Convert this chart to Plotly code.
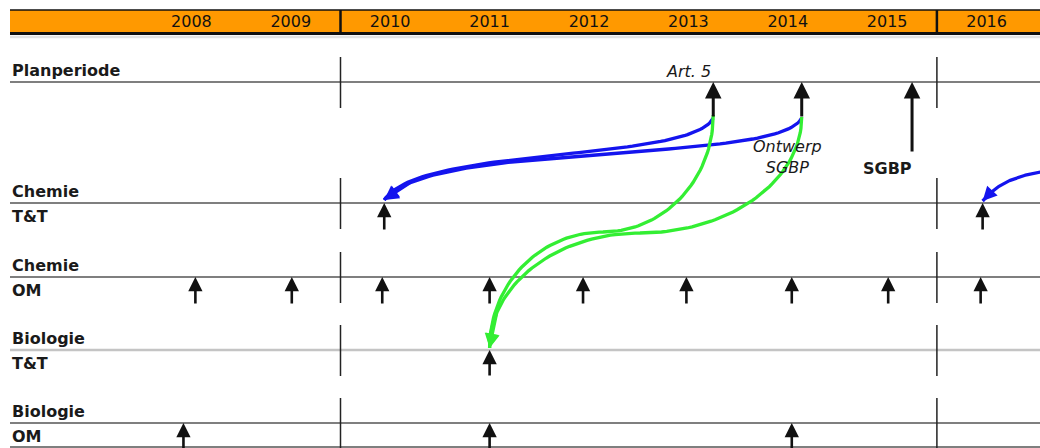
import numpy as np
import plotly.graph_objects as go

# ---------------- data ----------------
years = [2008, 2009, 2010, 2011, 2012, 2013, 2014, 2015, 2016]
period_bounds = [2010.0, 2016.0]  # boundaries of the planning period

row_upper = ["Planperiode", "Chemie", "Chemie", "Biologie", "Biologie"]
row_lower = ["", "T&T", "OM", "T&T", "OM"]

planperiode_events = [2013.75, 2014.64, 2015.75]
chemie_tt_events = [2010.44, 2016.46]
chemie_om_events = [2008.54, 2009.51, 2010.42, 2011.50, 2012.44,
                    2013.48, 2014.54, 2015.51, 2016.44]
biologie_tt_events = [2011.50]
biologie_om_events = [2008.42, 2011.50, 2014.54]

milestone_labels = ["<i>Art. 5</i>", "<i>Ontwerp<br>SGBP</i>", "<b>SGBP</b>"]
milestone_label_x = [2013.5, 2014.5, 2015.5]

# links: (start event year, end event year)
blue_links = [(2013.75, 2010.44), (2014.64, 2010.44), (2017.09, 2016.46)]
green_links = [(2013.75, 2011.50), (2014.64, 2011.50)]

# ---------------- layout / style ----------------
W, H = 1040, 448
PX_PER_YEAR = 99.4
X_L = period_bounds[0] - 340.5 / PX_PER_YEAR
X_R = X_L + W / PX_PER_YEAR
LEFT_PX = 10

ROW_Y = [82, 203, 277, 350, 423]
BOTTOM_LINE_Y = 447
ROW_LINE_COLOR = ["#555555", "#555555", "#555555", "#c4c4c4", "#555555"]
ROW_LINE_WIDTH = [1.5, 1.5, 1.5, 2.5, 1.5]
DIV_UP, DIV_DOWN = 25, 26

rows_events = [planperiode_events, chemie_tt_events, chemie_om_events,
               biologie_tt_events, biologie_om_events]
row_shaft = [[36, 36, 71], [28], [28], [27], [30]]
row_arrow_w = [3.0, 2.6, 2.6, 2.6, 2.6]

FONT = "DejaVu Sans"
TXT = "#1a1a1a"

BLUE = "#1414ee"
GREEN = "#33ee33"
blue_style = [  # start y, end y, ctrl offsets (px)
    dict(y0=118, y3=200, c1=(-22, 45), c2=(34, -55)),
    dict(y0=118, y3=200, c1=(-23, 47), c2=(44, -60)),
    dict(y0=171, y3=201, c1=(-35, 6), c2=(14, -16)),
]
# green: two quarter-ellipse arcs joined at a horizontal turning point (px)
green_style = [
    dict(y0=115, y3=348, mid=(603, 232)),
    dict(y0=117, y3=348, mid=(640, 233)),
]
KAPPA = 0.552


def x2px(x):
    return (x - X_L) * PX_PER_YEAR


def px2x(p):
    return X_L + p / PX_PER_YEAR


def bezier(p0, p1, p2, p3, t):
    t = np.asarray(t)[:, None]
    return ((1 - t) ** 3 * p0 + 3 * (1 - t) ** 2 * t * p1
            + 3 * (1 - t) * t ** 2 * p2 + t ** 3 * p3)


fig = go.Figure()
shapes = []
annotations = []

# header band
shapes.append(dict(type="rect", xref="paper", yref="y", x0=LEFT_PX / W, x1=1,
                   y0=10, y1=33, fillcolor="#ff9900", line_width=0, layer="below"))
shapes.append(dict(type="line", xref="paper", yref="y", x0=LEFT_PX / W, x1=1,
                   y0=10, y1=10, line=dict(color="#111", width=1.5), layer="below"))
shapes.append(dict(type="line", xref="paper", yref="y", x0=LEFT_PX / W, x1=1,
                   y0=37, y1=37, line=dict(color="#e2e2e2", width=2.5), layer="below"))
shapes.append(dict(type="line", xref="paper", yref="y", x0=LEFT_PX / W, x1=1,
                   y0=33.5, y1=33.5, line=dict(color="#111", width=3), layer="below"))
for b in period_bounds:
    shapes.append(dict(type="line", xref="x", yref="y", x0=b, x1=b, y0=10, y1=33,
                       line=dict(color="#111", width=2.5), layer="below"))

# row lines and dividers
for i, ry in enumerate(ROW_Y):
    shapes.append(dict(type="line", xref="paper", yref="y", x0=LEFT_PX / W, x1=1,
                       y0=ry, y1=ry,
                       line=dict(color=ROW_LINE_COLOR[i], width=ROW_LINE_WIDTH[i]),
                       layer="below"))
    for b in period_bounds:
        shapes.append(dict(type="line", xref="x", yref="y", x0=b, x1=b,
                           y0=ry - DIV_UP, y1=ry + DIV_DOWN,
                           line=dict(color="#222", width=1.5), layer="below"))
shapes.append(dict(type="line", xref="paper", yref="y", x0=LEFT_PX / W, x1=1,
                   y0=BOTTOM_LINE_Y, y1=BOTTOM_LINE_Y,
                   line=dict(color="#555555", width=1.5), layer="below"))

# year labels
fig.add_trace(go.Scatter(
    x=[y + 0.5 for y in years], y=[23] * len(years), mode="text",
    text=[str(y) for y in years],
    textfont=dict(family=FONT, size=16, color="#111"),
    hoverinfo="skip", showlegend=False))

# row labels
lab_x, lab_y, lab_t = [], [], []
for i, ry in enumerate(ROW_Y):
    lab_x.append(px2x(LEFT_PX + 2)); lab_y.append(ry - 10); lab_t.append("<b>%s</b>" % row_upper[i])
    if row_lower[i]:
        lab_x.append(px2x(LEFT_PX + 2)); lab_y.append(ry + 15); lab_t.append("<b>%s</b>" % row_lower[i])
fig.add_trace(go.Scatter(
    x=lab_x, y=lab_y, mode="text", text=lab_t, textposition="middle right",
    textfont=dict(family=FONT, size=16, color=TXT),
    hoverinfo="skip", showlegend=False))

# milestone labels
annotations.append(dict(x=milestone_label_x[0], y=71, xref="x", yref="y",
                        text=milestone_labels[0], showarrow=False,
                        font=dict(family=FONT, size=16, color=TXT)))
annotations.append(dict(x=milestone_label_x[1], y=157, xref="x", yref="y",
                        text=milestone_labels[1], showarrow=False,
                        font=dict(family=FONT, size=16, color=TXT)))
annotations.append(dict(x=milestone_label_x[2], y=168, xref="x", yref="y",
                        text=milestone_labels[2], showarrow=False,
                        font=dict(family=FONT, size=16, color=TXT)))


def draw_curve(pts, tail, color):
    fig.add_trace(go.Scatter(
        x=px2x(pts[:, 0]), y=pts[:, 1], mode="lines",
        line=dict(color=color, width=3.3),
        hoverinfo="skip", showlegend=False))
    end = pts[-1]
    annotations.append(dict(x=px2x(end[0]), y=end[1], ax=px2x(tail[0]), ay=tail[1],
                            xref="x", yref="y", axref="x", ayref="y", text="",
                            showarrow=True, arrowhead=2, arrowsize=1.1,
                            arrowwidth=2.6, arrowcolor=color))


# blue connectors (single cubic)
for (xs, xe), st in zip(blue_links, blue_style):
    p0 = np.array([x2px(xs), st["y0"]])
    p3 = np.array([x2px(xe), st["y3"]])
    p1 = p0 + np.array(st["c1"])
    p2 = p3 + np.array(st["c2"])
    pts = bezier(p0, p1, p2, p3, np.linspace(0, 1, 80))
    tail = bezier(p0, p1, p2, p3, [0.88])[0]
    draw_curve(pts, tail, BLUE)

# green connectors (two quarter-arcs)
for (xs, xe), st in zip(green_links, green_style):
    p0 = np.array([x2px(xs), st["y0"]])
    p3 = np.array([x2px(xe), st["y3"]])
    m = np.array(st["mid"], dtype=float)
    a1 = bezier(p0, p0 + [0, KAPPA * (m[1] - p0[1])],
                m + [KAPPA * (p0[0] - m[0]), 0], m, np.linspace(0, 1, 50))
    q1, q2 = m + [-KAPPA * (m[0] - p3[0]), 0], p3 + [0, -KAPPA * (p3[1] - m[1])]
    a2 = bezier(m, q1, q2, p3, np.linspace(0, 1, 50))
    pts = np.vstack([a1, a2[1:]])
    tail = bezier(m, q1, q2, p3, [0.8])[0]
    draw_curve(pts, tail, GREEN)

# event arrows
for i, evs in enumerate(rows_events):
    for j, ex in enumerate(evs):
        shaft = row_shaft[i][j] if j < len(row_shaft[i]) else row_shaft[i][-1]
        annotations.append(dict(x=ex, y=ROW_Y[i], ax=ex, ay=ROW_Y[i] + shaft,
                                xref="x", yref="y", axref="x", ayref="y", text="",
                                showarrow=True, arrowhead=2, arrowsize=1.1,
                                arrowwidth=row_arrow_w[i], arrowcolor="#111"))

fig.update_layout(
    width=W, height=H, margin=dict(l=0, r=0, t=0, b=0, pad=0),
    paper_bgcolor="white", plot_bgcolor="white",
    xaxis=dict(range=[X_L, X_R], visible=False, fixedrange=True),
    yaxis=dict(range=[H, 0], visible=False, fixedrange=True),
    shapes=shapes, annotations=annotations, showlegend=False,
)

fig.write_html(
    "out.html",
    config=dict(displayModeBar=False, staticPlot=True),
    post_script="document.body.style.margin='0';document.body.style.overflow='hidden';",
)
